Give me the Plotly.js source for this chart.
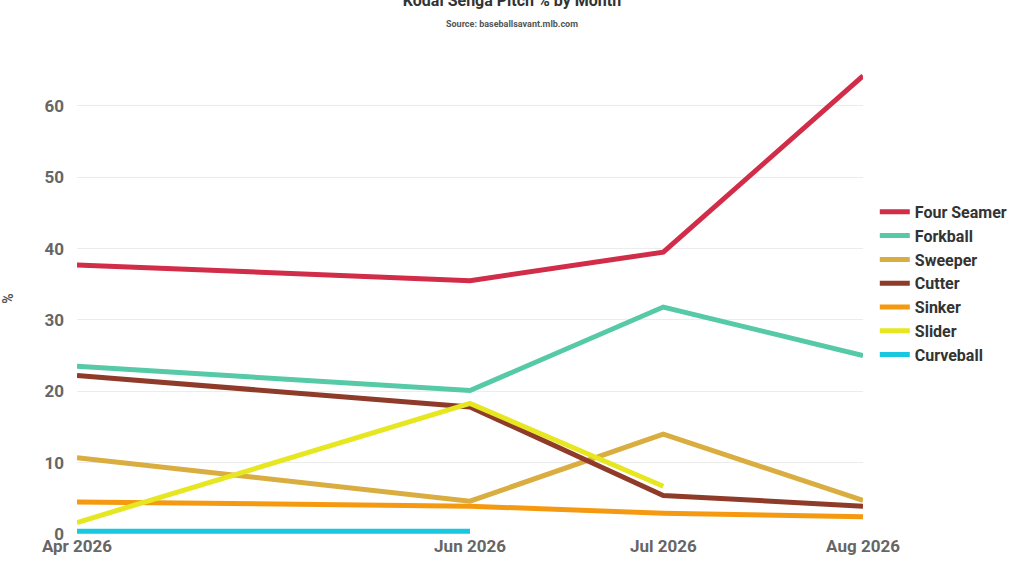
<!DOCTYPE html>
<html>
<head>
<meta charset="utf-8">
<script src="https://cdn.plot.ly/plotly-3.0.1.min.js"></script>
<style>html,body{margin:0;padding:0;background:#fff}#chart{width:1024px;height:576px}</style>
</head>
<body>
<div id="chart"></div>
<script>
const months = ['2026-04-01', '2026-06-01', '2026-07-01', '2026-08-01'];
const tickLabels = ['Apr 2026', 'Jun 2026', 'Jul 2026', 'Aug 2026'];

const fourSeamer = [37.7, 35.5, 39.5, 64.2];
const forkball = [23.5, 20.1, 31.8, 25.0];
const sweeper = [10.7, 4.6, 14.0, 4.7];
const cutter = [22.2, 17.8, 5.4, 3.9];
const sinker = [4.5, 3.9, 2.9, 2.4];
const slider = [1.6, 18.3, 6.7, null];
const curveball = [0.4, 0.4, null, null];

const pitchNames = ['Four Seamer', 'Forkball', 'Sweeper', 'Cutter', 'Sinker', 'Slider', 'Curveball'];
const pitchValues = [fourSeamer, forkball, sweeper, cutter, sinker, slider, curveball];
const pitchColors = ['#d12c48', '#56c9a6', '#d9ad3f', '#8f3b2a', '#f59a10', '#e6e621', '#17c8e0'];

const traces = pitchNames.map((name, i) => ({
  x: months,
  y: pitchValues[i],
  type: 'scatter',
  mode: 'lines',
  name,
  line: { color: pitchColors[i], width: 5 },
  connectgaps: false
}));

const layout = {
  width: 1024,
  height: 576,
  title: {
    text: '<b>Kodai Senga Pitch % by Month</b><br><span style="font-size:9px;color:#555"><b>Source: baseballsavant.mlb.com</b></span>',
    font: { family: 'Roboto, sans-serif', size: 16, color: '#333' },
    x: 0.5, y: 0.99, xanchor: 'center', yanchor: 'top'
  },
  font: { family: 'Roboto, sans-serif' },
  margin: { l: 77, r: 152, t: 63, b: 42 },
  xaxis: {
    type: 'date',
    tickvals: months,
    ticktext: tickLabels,
    range: ['2026-04-01', '2026-08-01'],
    showgrid: false,
    zeroline: false,
    showline: false,
    tickfont: { size: 17, color: '#666', weight: 'bold' }
  },
  yaxis: {
    title: { text: '<b>%</b>', font: { size: 14, color: '#555' }, standoff: 30 },
    range: [0, 66],
    tickvals: [0, 10, 20, 30, 40, 50, 60],
    gridcolor: '#ececec',
    zeroline: false,
    tickfont: { size: 17, color: '#666', weight: 'bold' },
    ticklabelstandoff: 12
  },
  legend: {
    x: 1.015, y: 0.72, xanchor: 'left', yanchor: 'top',
    font: { size: 16, color: '#333', weight: 'bold' },
    itemwidth: 30,
    tracegroupgap: 0
  },
  plot_bgcolor: '#fff',
  paper_bgcolor: '#fff'
};
layout.margin.r = 135;

Plotly.newPlot('chart', traces, layout, { displayModeBar: false, staticPlot: true });
</script>
</body>
</html>
